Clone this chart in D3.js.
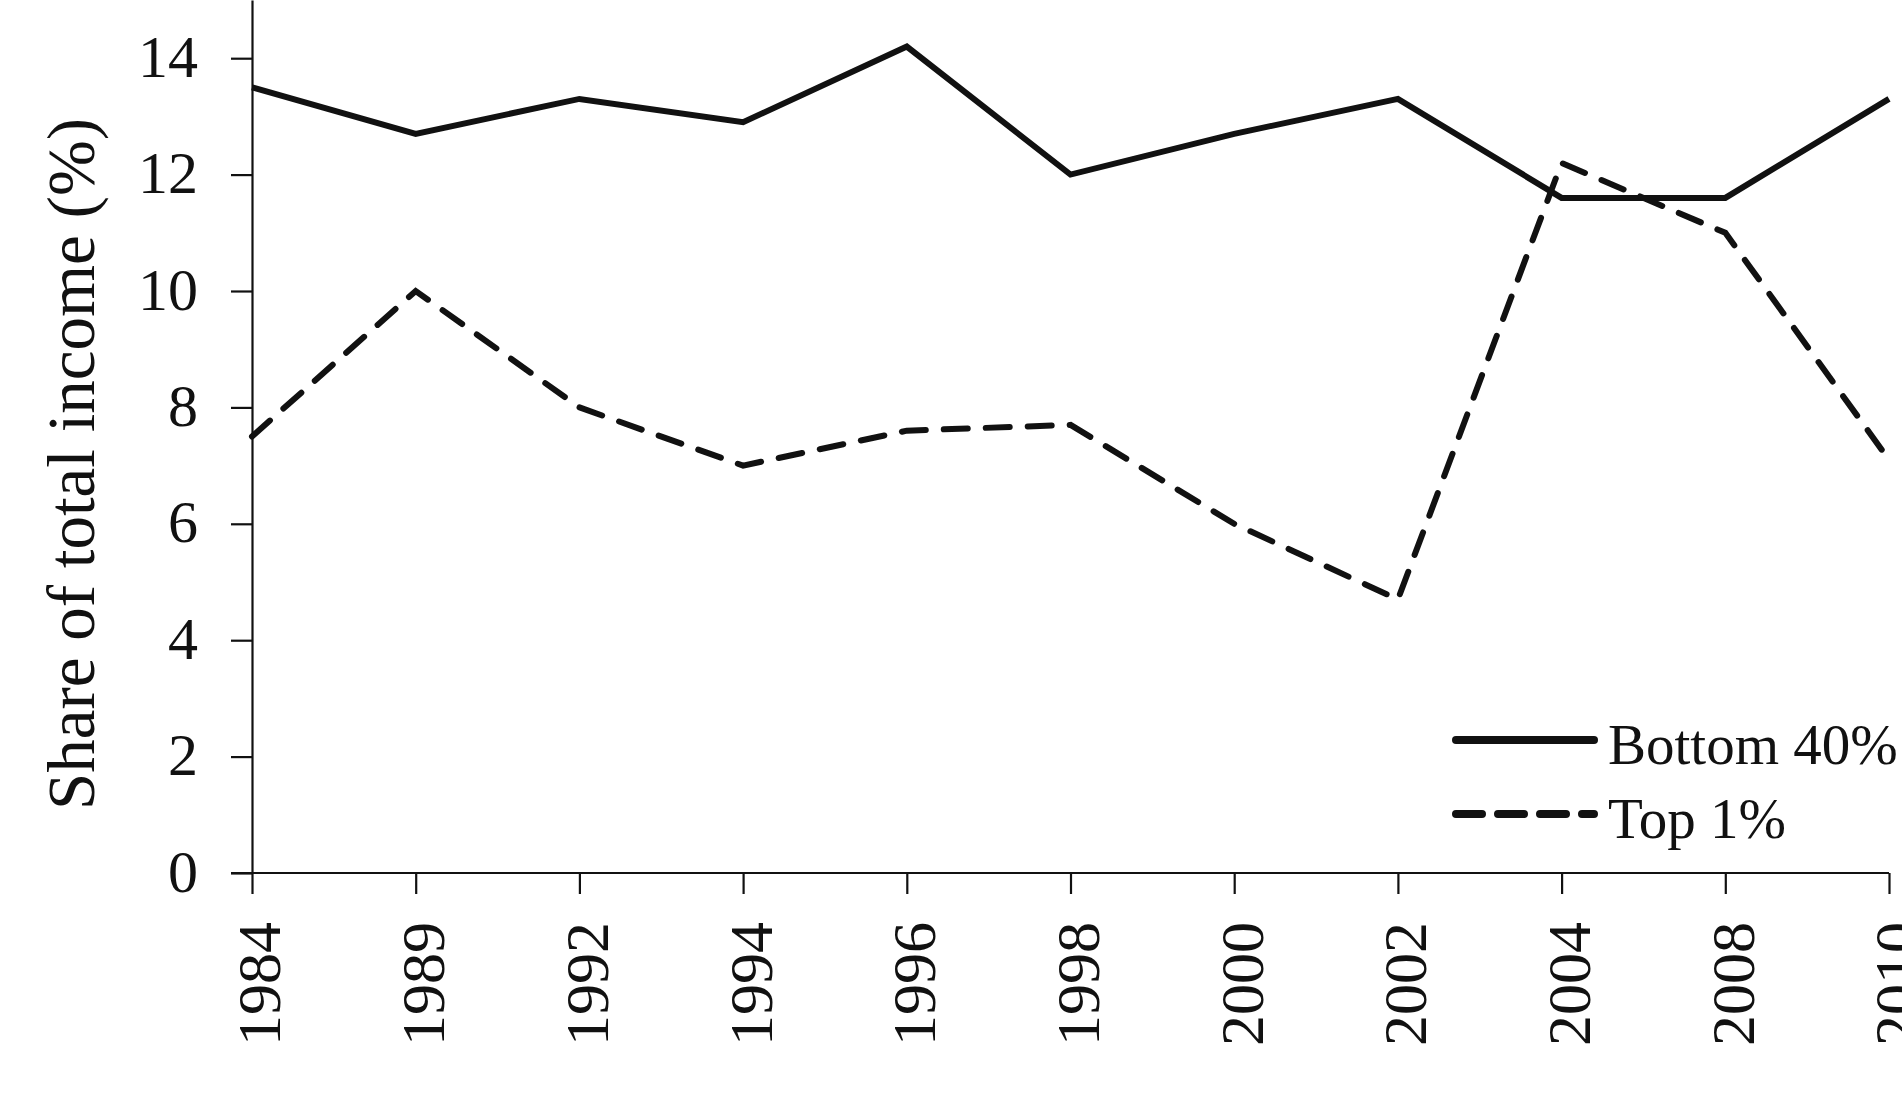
<!DOCTYPE html>
<head>
    <meta charset="utf-8">
    <title>Share of total income</title>
    <style>
        body { margin: 0; background: #fff; }
        svg { display: block; }
        .axis path, .axis line { stroke: #111; stroke-width: 2.2; }
        .axis text { font-family: "Liberation Serif", "Times New Roman", serif; fill: #111; }
    </style>
</head>
<body>
<svg width="1902" height="1110"></svg>
</body>

<script src="https://d3js.org/d3.v7.min.js"></script>
<script>

// survey years, shown as evenly spaced categories
var years = ["1984", "1989", "1992", "1994", "1996", "1998", "2000", "2002", "2004", "2008", "2010"];

// share of total income (%)
var bottom40 = [13.5, 12.7, 13.3, 12.9, 14.2, 12.0, 12.7, 13.3, 11.6, 11.6, 13.3];
var top1 = [7.5, 10.0, 8.0, 7.0, 7.6, 7.7, 6.0, 4.7, 12.2, 11.0, 7.1];

var yTicks = [0, 2, 4, 6, 8, 10, 12, 14];

var seriesNames = ["Bottom 40%", "Top 1%"];

var svg = d3.select("svg"),
    plotLeft = 252, plotRight = 1889,
    plotTop = 0, plotBottom = 873,
    font = '"Liberation Serif", "Times New Roman", serif';

var x = d3.scalePoint()
    .domain(years)
    .range([plotLeft, plotRight])
    .padding(0);

var y = d3.scaleLinear()
    .domain([0, 15])
    .range([plotBottom, plotTop]);

// y axis
var yAxis = svg.append("g")
    .attr("class", "axis")
    .attr("transform", "translate(" + plotLeft + ",0)")
    .call(d3.axisLeft(y).tickValues(yTicks).tickSize(21).tickSizeOuter(0).tickPadding(33));
yAxis.selectAll("text")
    .style("font-size", "60px")
    .attr("dy", "0.3em");

// x axis with vertical labels
var xAxis = svg.append("g")
    .attr("class", "axis")
    .attr("transform", "translate(0," + plotBottom + ")")
    .call(d3.axisBottom(x).tickSize(21).tickSizeOuter(0));
xAxis.select(".domain").attr("d", "M" + (plotLeft - 21) + ",0H" + plotRight);
xAxis.selectAll("text")
    .style("font-size", "62px")
    .attr("text-anchor", "end")
    .attr("transform", "rotate(-90)")
    .attr("x", -49)
    .attr("y", 0)
    .attr("dy", "0.45em");

svg.append("text")
    .attr("transform", "translate(94,464) rotate(-90)")
    .attr("text-anchor", "middle")
    .style("font-family", font)
    .style("font-size", "67px")
    .style("fill", "#111")
    .text("Share of total income (%)");

var line = d3.line()
    .x(function(d, i) { return x(years[i]); })
    .y(function(d) { return y(d); });

svg.append("path")
    .datum(bottom40)
    .attr("d", line)
    .attr("fill", "none")
    .attr("stroke", "#111")
    .attr("stroke-width", 6)
    .attr("stroke-linejoin", "miter");

svg.append("path")
    .datum(top1)
    .attr("d", line)
    .attr("fill", "none")
    .attr("stroke", "#111")
    .attr("stroke-width", 6)
    .attr("stroke-linecap", "round")
    .attr("stroke-dasharray", "24,18");

// legend
var legend = svg.append("g").attr("transform", "translate(1456,740)");
seriesNames.forEach(function(name, i) {
    var row = legend.append("g").attr("transform", "translate(0," + i * 74 + ")");
    row.append("line")
        .attr("x1", 0).attr("x2", 138)
        .attr("stroke", "#111")
        .attr("stroke-width", 8)
        .attr("stroke-linecap", "round")
        .attr("stroke-dasharray", i ? "26,16" : null);
    row.append("text")
        .attr("x", 152)
        .attr("y", 24)
        .style("font-family", font)
        .style("font-size", "57px")
        .style("fill", "#111")
        .text(name);
});
</script>
